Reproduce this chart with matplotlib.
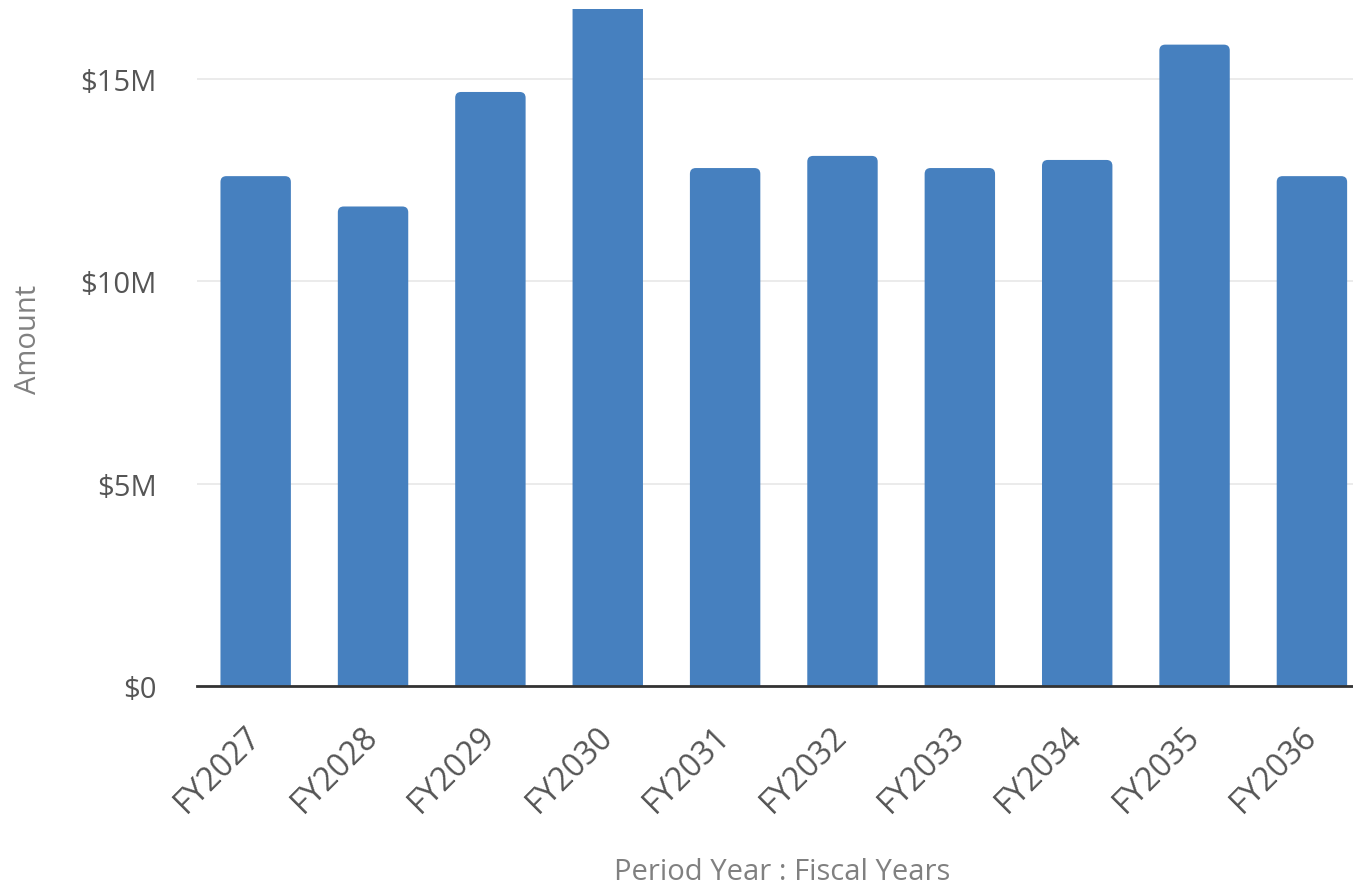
import matplotlib
matplotlib.use("Agg")
import matplotlib.pyplot as plt
from matplotlib.patches import FancyBboxPatch
from matplotlib.ticker import FuncFormatter

# data (millions)
years = ["FY2027", "FY2028", "FY2029", "FY2030", "FY2031",
         "FY2032", "FY2033", "FY2034", "FY2035", "FY2036"]
amounts = [12.6, 11.85, 14.68, 17.3, 12.8, 13.1, 12.8, 13.0, 15.85, 12.6]

bar_color = "#4680bf"
text_color = "#555555"

plt.rcParams['font.family'] = ['Open Sans', 'DejaVu Sans']

fig = plt.figure(figsize=(13.53, 8.87), dpi=100)
ax = fig.add_axes([0.1456, 0.2255, 0.8544, 0.7632])

ymax = 16.73
xlim = (-0.5, 9.35)
ax.set_xlim(*xlim)
ax.set_ylim(0, ymax)

# rounded-top bars; the bottom corners are pushed below the axis and clipped
width = 0.6
ax_w = 0.8544 * 1353
ax_h = 0.7632 * 887
aspect = (ymax / ax_h) / ((xlim[1] - xlim[0]) / ax_w)
for i, v in enumerate(amounts):
    p = FancyBboxPatch((i - width / 2, -0.5), width, v + 0.5,
                       boxstyle="round,pad=0,rounding_size=0.05",
                       mutation_aspect=aspect,
                       facecolor=bar_color, edgecolor="none", zorder=3)
    ax.add_patch(p)

ax.set_yticks([0, 5, 10, 15])
ax.yaxis.set_major_formatter(FuncFormatter(lambda v, _: "$0" if v == 0 else f"${v:.0f}M"))
ax.set_xticks(range(len(years)))
ax.set_xticklabels(years, rotation=45, ha="right", va="center", rotation_mode="anchor")

ax.grid(axis="y", color="#e8e8e8", linewidth=1.2, zorder=0)
ax.tick_params(axis="both", length=0, labelcolor=text_color)
ax.tick_params(axis="y", pad=29, labelsize=21)
ax.tick_params(axis="x", pad=32, labelsize=23)

for s in ["top", "right", "left"]:
    ax.spines[s].set_visible(False)
ax.spines["bottom"].set_color("#333333")
ax.spines["bottom"].set_linewidth(2)
ax.spines["bottom"].set_zorder(4)

ax.set_ylabel("Amount", fontsize=21, color="#808080")
ax.set_xlabel("Period Year : Fiscal Years", fontsize=21, color="#808080")
ax.yaxis.set_label_coords(-0.133, 0.513)
ax.xaxis.set_label_coords(0.506, -0.252)

fig.savefig("out.png", dpi=100)
